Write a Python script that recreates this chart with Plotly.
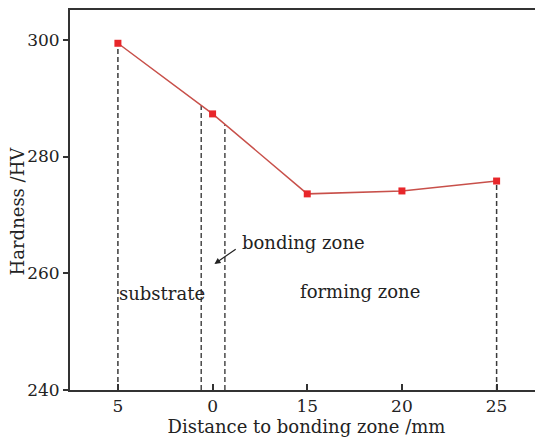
import numpy as np
import plotly.graph_objects as go

# Data
x_pos = [-5, 0, 5, 10, 15]
x_tick_labels = ["5", "0", "15", "20", "25"]
hardness = [299.4, 287.3, 273.6, 274.1, 275.8]
bonding_zone = [-0.6, 0.65]
y_ticks = [240, 260, 280, 300]

fig = go.Figure()

font_family = "DejaVu Serif, Liberation Serif, serif"
txt_color = "#222222"

# vertical dashed drop lines from end points
for xv, yv in zip([x_pos[0], x_pos[-1]], [hardness[0], hardness[-1]]):
    fig.add_trace(go.Scatter(x=[xv, xv], y=[240, yv], mode="lines",
                             line=dict(color="#3a3a3a", width=1.5, dash="5px,3px"),
                             showlegend=False, hoverinfo="skip"))
# bonding zone boundaries
for xb in bonding_zone:
    yb = float(np.interp(xb, x_pos, hardness))
    fig.add_trace(go.Scatter(x=[xb, xb], y=[240, yb], mode="lines",
                             line=dict(color="#4a4a4a", width=1.5, dash="5px,3px"),
                             showlegend=False, hoverinfo="skip"))

fig.add_trace(go.Scatter(x=x_pos, y=hardness, mode="lines+markers",
                         line=dict(color="#c8504a", width=1.5),
                         marker=dict(symbol="square", size=7, color="#e8262a"),
                         showlegend=False))

ann_font = dict(family=font_family, size=18, color=txt_color)
fig.add_annotation(x=-5.05, y=256.6, text="substrate", showarrow=False,
                   xanchor="left", yanchor="middle", font=ann_font)
fig.add_annotation(x=4.5, y=256.9, text="forming zone", showarrow=False,
                   xanchor="left", yanchor="middle", font=ann_font)
fig.add_annotation(x=1.45, y=265.3, text="bonding zone", showarrow=False,
                   xanchor="left", yanchor="middle", font=ann_font)
fig.add_annotation(x=0.1, y=261.6, ax=1.3, ay=264.3, axref="x", ayref="y",
                   xref="x", yref="y", text="", showarrow=True,
                   arrowhead=2, arrowsize=1, arrowwidth=1.2, arrowcolor=txt_color)

# y-axis title
fig.add_annotation(xref="paper", yref="paper", x=-0.112, y=0.47,
                   text="Hardness /HV", textangle=-90, showarrow=False,
                   xanchor="center", yanchor="middle",
                   font=dict(family=font_family, size=18, color=txt_color))

fig.update_layout(
    width=535, height=430,
    margin=dict(l=62, r=0, t=0, b=48),
    plot_bgcolor="white", paper_bgcolor="white",
    font=dict(family=font_family, size=17, color=txt_color),
)
fig.update_xaxes(range=[-7.53, 17.45], tickvals=x_pos, ticktext=x_tick_labels,
                 ticks="inside", ticklen=6, tickwidth=1.5, tickcolor="#333",
                 showline=True, linecolor="#333", linewidth=2, mirror=True,
                 showgrid=False, zeroline=False,
                 tickfont=dict(size=17),
                 title=dict(text="Distance to bonding zone /mm", standoff=0,
                            font=dict(size=18)))
fig.update_yaxes(range=[240, 305.1], tickvals=y_ticks,
                 ticks="outside", ticklen=5, tickwidth=1.5, tickcolor="#333",
                 showline=True, linecolor="#333", linewidth=2,
                 showgrid=False, zeroline=False,
                 tickfont=dict(size=17))

fig.write_html("out.html")
